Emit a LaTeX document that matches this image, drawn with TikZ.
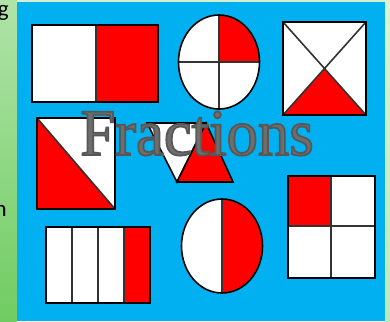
\documentclass[tikz,border=0pt]{standalone}
\usepackage{fontspec}
\setmainfont{Liberation Serif}
\newfontfamily\slidefont{Carlito}
\usepackage{xcolor}
\usepackage{tikz}

\definecolor{slideblue}{RGB}{0,176,240}
\definecolor{stripgreen}{RGB}{112,204,98}
\definecolor{titlegray}{RGB}{110,110,110}
\newcommand\strokedtext[1]{\special{pdf:literal direct 2 Tr 1.8 w 0.34 0.34 0.34 RG}#1\special{pdf:literal direct 0 Tr}}

\begin{document}
\begin{tikzpicture}[
  x=1pt, y=-1pt,
  outline/.style={draw=black, line width=1.6pt},
  divide/.style={draw=black!80, line width=1.6pt},
  part/.style={fill=red},
  blank/.style={fill=white},
  slidetext/.style={font=\slidefont\fontsize{23}{23}\selectfont, inner sep=0pt, anchor=base east}
]
\useasboundingbox (0,0) rectangle (390,321);
% slide behind the picture
\shade[top color=stripgreen!55!white, bottom color=stripgreen] (0,0) rectangle (17,321);
\shade[top color=stripgreen!25!white, bottom color=stripgreen!45!white] (385,0) rectangle (390,321);
\fill[stripgreen!30!white] (17,0) rectangle (385,2);
\fill[slideblue] (17,2) rectangle (385,321);
\node[slidetext] (g) at (9,17) {g};
\node[slidetext] (n) at (7,216) {n};

% halves
\fill[blank] (32,25) rectangle (96,102);
\fill[part] (96,25) rectangle (158,102);
\draw[divide] (96,25) -- (96,102);
\draw[outline] (32,25) rectangle (158,102);

% quarter circle
\fill[blank] (219,62) ellipse [x radius=40.5, y radius=47];
\begin{scope}
  \clip (219,62) ellipse [x radius=40.5, y radius=47];
  \fill[part] (219,10) rectangle (265,62);
\end{scope}
\draw[divide] (219,15) -- (219,109) (178.5,62) -- (259.5,62);
\draw[outline] (219,62) ellipse [x radius=40.5, y radius=47];

% square cut by two diagonals
\fill[blank] (283,22) rectangle (366,115);
\fill[part] (283,115) -- (324.5,68.5) -- (366,115) -- cycle;
\draw[divide] (283,22) -- (366,115) (366,22) -- (283,115);
\draw[outline] (283,22) rectangle (366,115);

% square cut by one diagonal
\fill[blank] (37,118) rectangle (115,209);
\fill[part] (37,118) -- (115,209) -- (37,209) -- cycle;
\draw[divide] (37,118) -- (115,209);
\draw[outline] (37,118) rectangle (115,209);

% two triangles
\filldraw[blank, outline] (147,123) -- (206,123) -- (177,182) -- cycle;
\filldraw[part, outline] (177,182) -- (206,123) -- (233,182) -- cycle;

% quarters of a square
\fill[blank] (288,176) rectangle (375,278);
\fill[part] (288,176) rectangle (331,226);
\draw[divide] (331,176) -- (331,278) (288,226) -- (375,226);
\draw[outline] (288,176) rectangle (375,278);

% four bars
\fill[blank] (46,227) rectangle (124,303);
\fill[part] (124,227) rectangle (150,303);
\foreach \x in {72,98,124}{\draw[divide] (\x,227) -- (\x,303);}
\draw[outline] (46,227) rectangle (150,303);

% half circle
\fill[blank] (222,246) ellipse [x radius=40.5, y radius=47];
\begin{scope}
  \clip (222,246) ellipse [x radius=40.5, y radius=47];
  \fill[part] (222,195) rectangle (266,297);
\end{scope}
\draw[divide] (222,199) -- (222,293);
\draw[outline] (222,246) ellipse [x radius=40.5, y radius=47];

% title
\node[inner sep=0pt, anchor=base, xscale=0.95, text=titlegray, font=\fontsize{66}{66}\selectfont] (title) at (197,155) {\strokedtext{Fractions}};
\end{tikzpicture}
\end{document}
